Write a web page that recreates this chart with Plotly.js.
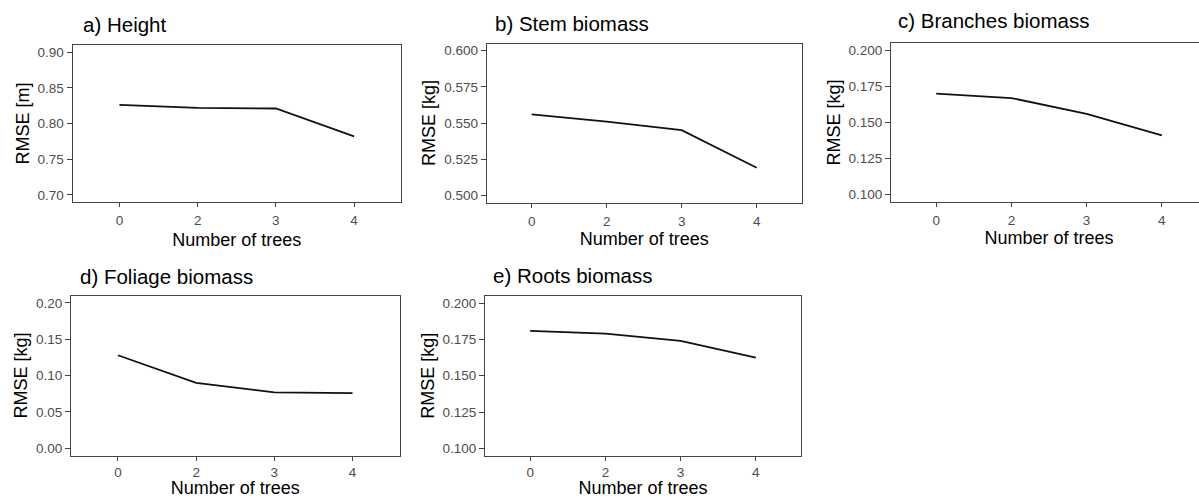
<!DOCTYPE html>
<html>
<head>
<meta charset="utf-8">
<script src="https://cdn.plot.ly/plotly-3.0.1.min.js"></script>
<style>
html,body{margin:0;padding:0;overflow:hidden;background:#fff;}
#chart{width:1215px;height:498px;}
</style>
</head>
<body>
<div id="chart"></div>
<script>
// Data
const treeCounts = ['0', '2', '3', '4'];
const heightRMSE = [0.826, 0.822, 0.821, 0.782];
const stemRMSE = [0.556, 0.551, 0.545, 0.519];
const branchesRMSE = [0.170, 0.167, 0.156, 0.141];
const foliageRMSE = [0.128, 0.090, 0.077, 0.076];
const rootsRMSE = [0.181, 0.179, 0.174, 0.1625];

const panelTitles = ['a) Height', 'b) Stem biomass', 'c) Branches biomass', 'd) Foliage biomass', 'e) Roots biomass'];
const yTitles = ['RMSE [m]', 'RMSE [kg]', 'RMSE [kg]', 'RMSE [kg]', 'RMSE [kg]'];
const xTitle = 'Number of trees';
const yTickVals = [
  [0.70, 0.75, 0.80, 0.85, 0.90],
  [0.500, 0.525, 0.550, 0.575, 0.600],
  [0.100, 0.125, 0.150, 0.175, 0.200],
  [0.00, 0.05, 0.10, 0.15, 0.20],
  [0.100, 0.125, 0.150, 0.175, 0.200]
];
const yTickFormats = ['.2f', '.3f', '.3f', '.2f', '.3f'];
const series = [heightRMSE, stemRMSE, branchesRMSE, foliageRMSE, rootsRMSE];

// Layout geometry (pixels); figure is a little wider than the window, which clips panel c
const W = 1215, H = 498;
const boxes = [
  {x0: 72.5, x1: 401, y0: 45, y1: 202, tx: 81, ty: 25, so: 6, tls: 2},
  {x0: 486.7, x1: 801.7, y0: 43.5, y1: 202.5, tx: 493, ty: 23, so: 4, tls: 2},
  {x0: 891, x1: 1207, y0: 43.3, y1: 201.7, tx: 896, ty: 20, so: 3, tls: 2},
  {x0: 71, x1: 399.5, y0: 295.7, y1: 455.5, tx: 78, ty: 276, so: 6, tls: 0},
  {x0: 485, x1: 801, y0: 296, y1: 455.5, tx: 491, ty: 275, so: 6, tls: 0}
];

function yRange(vals) {
  const lo = vals[0], hi = vals[vals.length - 1];
  const pad = (hi - lo) * 0.05;
  return [lo - pad, hi + pad];
}

const fontFam = '"Liberation Sans", Arial, Helvetica, sans-serif';
const data = [];
const layout = {
  width: W, height: H,
  margin: {l: 0, r: 0, t: 0, b: 0},
  paper_bgcolor: '#fff', plot_bgcolor: '#fff',
  showlegend: false,
  font: {family: fontFam, color: '#000'},
  annotations: []
};

series.forEach((vals, i) => {
  const n = i === 0 ? '' : String(i + 1);
  const b = boxes[i];
  data.push({
    x: treeCounts, y: vals, type: 'scatter', mode: 'lines',
    line: {color: '#111', width: 1.8},
    xaxis: 'x' + n, yaxis: 'y' + n, hoverinfo: 'skip'
  });
  layout['xaxis' + n] = {
    type: 'category',
    domain: [b.x0 / W, b.x1 / W],
    anchor: 'y' + n,
    range: [-0.6, 3.6],
    showgrid: false, zeroline: false,
    showline: true, mirror: true, linecolor: '#444', linewidth: 1,
    ticks: 'outside', ticklen: 4, tickwidth: 1, tickcolor: '#444',
    ticklabelstandoff: b.tls,
    tickfont: {size: 13.5, color: '#4d4d4d', family: fontFam},
    title: {text: xTitle, font: {size: 18, color: '#000', family: fontFam}, standoff: b.so},
    fixedrange: true
  };
  layout['yaxis' + n] = {
    domain: [1 - b.y1 / H, 1 - b.y0 / H],
    anchor: 'x' + n,
    range: yRange(yTickVals[i]),
    tickvals: yTickVals[i],
    tickformat: yTickFormats[i],
    showgrid: false, zeroline: false,
    showline: true, mirror: true, linecolor: '#444', linewidth: 1,
    ticks: 'outside', ticklen: 5, tickwidth: 1, tickcolor: '#444',
    tickfont: {size: 13.5, color: '#4d4d4d', family: fontFam},
    title: {text: yTitles[i], font: {size: 18, color: '#000', family: fontFam}, standoff: 3},
    fixedrange: true
  };
  layout.annotations.push({
    text: panelTitles[i], xref: 'paper', yref: 'paper',
    x: b.tx / W, y: 1 - b.ty / H, xanchor: 'left', yanchor: 'middle',
    showarrow: false, font: {size: 20.5, color: '#000', family: fontFam}
  });
});

Plotly.newPlot('chart', data, layout, {staticPlot: true, displayModeBar: false});
</script>
</body>
</html>
